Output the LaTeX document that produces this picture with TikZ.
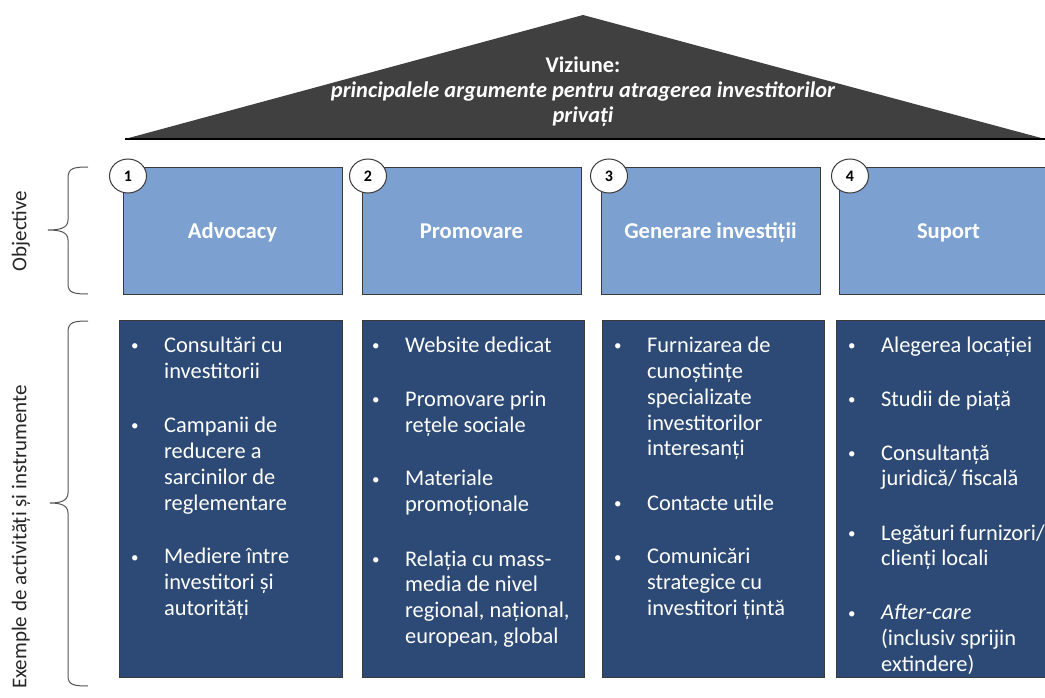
\documentclass[tikz,border=0pt]{standalone}
\usepackage{fontspec}
\usetikzlibrary{shapes.geometric}
\setmainfont{Carlito}
\definecolor{roofc}{HTML}{404040}
\definecolor{objc}{HTML}{7CA0D0}
\definecolor{actc}{HTML}{2C4A75}
\definecolor{edgec}{HTML}{3A3A3A}
\definecolor{bracec}{HTML}{555555}
\newcommand\bitem[1]{\par\noindent\llap{\makebox[33pt][l]{\raisebox{1.5pt}{\fontsize{15}{15}\selectfont\textbullet}}}#1\par}
\newcommand\actlist[1]{\parbox[t]{240pt}{\raggedright\fontsize{22.4}{26}\selectfont\setlength{\parskip}{28pt}#1}}
\begin{document}
\begin{tikzpicture}[x=1pt,y=-1pt,
  objbox/.style={draw=edgec, line width=1pt, fill=objc, anchor=north west, minimum width=219pt, minimum height=127pt, inner sep=0},
  actbox/.style={draw=edgec, line width=1pt, fill=actc, anchor=north west, minimum width=222pt, minimum height=357pt, inner sep=0},
  objlabel/.style={anchor=base, inner sep=0, text=white, font=\fontsize{22.6}{26}\selectfont\bfseries},
  numcirc/.style={ellipse, draw=edgec, line width=1pt, fill=white, minimum width=37pt, minimum height=34pt, inner sep=0, font=\fontsize{16}{18}\selectfont\bfseries},
  acttext/.style={anchor=base west, inner sep=0, text=white},
  sidelabel/.style={rotate=90, inner sep=0, font=\fontsize{21}{24}\selectfont, text=black!85},
  bracestyle/.style={draw=bracec, line width=1pt}
]
\clip (0,0) rectangle (1045,698);
\fill[white] (0,0) rectangle (1045,698);

% roof
\fill[roofc] (125,139) -- (583,15) -- (1045,139) -- cycle;
\draw[black, line width=1.3pt] (125,139) -- (1045,139);
\node[anchor=base, inner sep=0, text=white] (vision) at (583,73)
  {\parbox[t]{640pt}{\centering\fontsize{22.4}{25}\selectfont\bfseries Viziune:\\ \itshape principalele argumente pentru atragerea investitorilor\\ privați}};

% objective boxes
\node[objbox] (o1) at (123,167) {};
\node[objbox] (o2) at (362,167) {};
\node[objbox] (o3) at (601,167) {};
\node[objbox] (o4) at (839,167) {};
\node[objlabel] (l1) at (232.5,238) {Advocacy};
\node[objlabel] (l2) at (471.5,238) {Promovare};
\node[objlabel] (l3) at (710.5,238) {Generare investiții};
\node[objlabel] (l4) at (948.5,238) {Suport};
\node[numcirc] (n1) at (128,176) {1};
\node[numcirc] (n2) at (368,176) {2};
\node[numcirc] (n3) at (609,176) {3};
\node[numcirc] (n4) at (850,176) {4};

% activity boxes
\node[actbox, minimum width=223pt] (a1) at (119,320) {};
\node[actbox] (a2) at (362,320) {};
\node[actbox] (a3) at (602,320) {};
\node[actbox, minimum width=230pt] (a4) at (836,320) {};

\node[acttext] (t1) at (164,352) {\actlist{%
  \bitem{Consultări cu\\investitorii}
  \bitem{Campanii de\\reducere a\\sarcinilor de\\reglementare}
  \bitem{Mediere între\\investitori și\\autorități}}};
\node[acttext] (t2) at (405,352) {\actlist{%
  \bitem{Website dedicat}
  \bitem{Promovare prin\\rețele sociale}
  \bitem{Materiale\\promoționale}
  \bitem{Relația cu mass-\\media de nivel\\regional, național,\\european, global}}};
\node[acttext] (t3) at (647,352) {\actlist{%
  \bitem{Furnizarea de\\cunoștințe\\specializate\\investitorilor\\interesanți}
  \bitem{Contacte utile}
  \bitem{Comunicări\\strategice cu\\investitori țintă}}};
\node[acttext] (t4) at (881,352) {\actlist{%
  \bitem{Alegerea locației}
  \bitem{Studii de piață}
  \bitem{Consultanță\\juridică/ fiscală}
  \bitem{Legături furnizori/\\clienți locali}
  \bitem{\textit{After-care}\\(inclusiv sprijin\\extindere)}}};

% braces
\draw[bracestyle] (88,167) .. controls (74,167) and (68,168) .. (68,178)
  -- (68,220) .. controls (68,228) and (60,230) .. (48,230)
  .. controls (60,230) and (68,232) .. (68,240)
  -- (68,284) .. controls (68,293) and (74,294) .. (88,294);
\draw[bracestyle] (88,321) .. controls (74,321) and (68,322) .. (68,332)
  -- (68,493) .. controls (68,501) and (60,503) .. (50,503)
  .. controls (60,503) and (68,505) .. (68,513)
  -- (68,676) .. controls (68,685) and (74,686) .. (88,686);

\node[sidelabel] (s1) at (21,231) {Objective};
\node[sidelabel] (s2) at (21,537) {Exemple de activități și instrumente};
\end{tikzpicture}
\end{document}
